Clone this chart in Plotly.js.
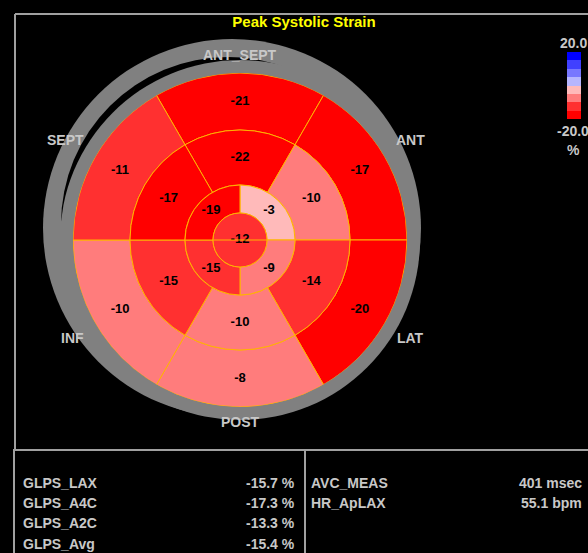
<!DOCTYPE html>
<html>
<head>
<meta charset="utf-8">
<script src="https://cdn.plot.ly/plotly-3.0.1.min.js"></script>
<style>
html,body{margin:0;padding:0;background:#000;overflow:hidden}
#chart{width:588px;height:553px}
</style>
</head>
<body>
<div id="chart"></div>
<script>
// ---------------- DATA ----------------
// Segment order (clockwise from top): ANT_SEPT, ANT, LAT, POST, INF, SEPT
const wallLabels   = ['ANT_SEPT', 'ANT', 'LAT', 'POST', 'INF', 'SEPT'];
const basalValues  = [-21, -17, -20, -8, -10, -11];
const midValues    = [-22, -10, -14, -10, -15, -17];
// Apical order (clockwise from upper-right): ant, lat, inf, sept
const apicalValues = [-3, -9, -15, -19];
const apexValues   = [-12];

const scaleMin = -20.0;
const scaleMax = 20.0;
const scaleUnit = '%';

const glpsLabels = ['GLPS_LAX', 'GLPS_A4C', 'GLPS_A2C', 'GLPS_Avg'];
const glpsValues = [-15.7, -17.3, -13.3, -15.4];
const measLabels = ['AVC_MEAS', 'HR_ApLAX'];
const measValues = [401, 55.1];
const measUnits  = ['msec', 'bpm'];

// ---------------- GEOMETRY / STYLE ----------------
const W = 588, H = 553;
const px = x => x / W;
const py = y => 1 - y / H;
const CX = 240, CY = 240, R = 167;
const ringEdges = [0, 27, 55, 110, 167];      // radial units == pixels
const lineColor = '#ffb400';
const labelGray = '#c8c8c8';
const FAMILY = 'Liberation Sans, Arial, sans-serif';
const bandColors = ['#ff0000', '#ff3030', '#ff7c7c', '#ffbaba', '#b6b6ff', '#7878ff', '#4040ff', '#0000ff'];
const colorscale = [];
bandColors.forEach((c, k) => { colorscale.push([k / 8, c]); colorscale.push([(k + 1) / 8, c]); });
const bold = s => '<b>' + s + '</b>';

function ringTrace(values, i0, i1, startAngle) {
  const n = values.length;
  const step = 360 / n;
  return {
    type: 'barpolar',
    r: values.map(() => ringEdges[i1] - ringEdges[i0]),
    base: values.map(() => ringEdges[i0]),
    theta: values.map((v, k) => startAngle + k * step),
    width: values.map(() => step),
    marker: { color: values, coloraxis: 'coloraxis', line: { color: lineColor, width: 1 } },
    hoverinfo: 'skip',
    showlegend: false
  };
}
function textTrace(values, i0, i1, startAngle) {
  const n = values.length;
  const step = 360 / n;
  const rm = i0 === 0 ? 0 : (ringEdges[i0] + ringEdges[i1]) / 2;
  return {
    type: 'scatterpolar',
    mode: 'text',
    r: values.map(() => rm),
    theta: values.map((v, k) => startAngle + k * step),
    text: values.map(v => bold(String(v))),
    textfont: { color: '#000000', size: 13, family: FAMILY },
    cliponaxis: false,
    hoverinfo: 'skip',
    showlegend: false
  };
}

const traces = [
  ringTrace(basalValues, 3, 4, 0),
  ringTrace(midValues, 2, 3, 0),
  ringTrace(apicalValues, 1, 2, 45),
  ringTrace(apexValues, 0, 1, 0),
  textTrace(basalValues, 3, 4, 0),
  textTrace(midValues, 2, 3, 0),
  textTrace(apicalValues, 1, 2, 45),
  textTrace(apexValues, 0, 1, 0)
];

function circle(cx, cy, r, color) {
  return { type: 'circle', xref: 'paper', yref: 'paper', layer: 'below',
    x0: px(cx - r), x1: px(cx + r), y0: py(cy + r), y1: py(cy - r),
    fillcolor: color, line: { width: 0 } };
}
function line(x0, y0, x1, y1, color, width, layer) {
  return { type: 'line', xref: 'paper', yref: 'paper', layer: layer || 'above',
    x0: px(x0), x1: px(x1), y0: py(y0), y1: py(y1), line: { color: color, width: width } };
}

const frameGray = '#a0a0a0';
const shapes = [
  circle(232, 228, 189, '#808080'),
  circle(228, 224, 167, '#000000'),
  circle(240, 240, 180, '#808080'),
  line(CX - ringEdges[1], CY, CX + ringEdges[1], CY, lineColor, 1, 'above'),
  line(15, 14, 588, 14, frameGray, 2),
  line(15, 14, 15, 449, frameGray, 2),
  line(13, 450, 588, 450, frameGray, 2),
  line(14, 450, 14, 553, frameGray, 2),
  line(305, 450, 305, 553, frameGray, 2)
];

function ann(text, x, y, xanchor, size, color) {
  return { text: bold(text), xref: 'paper', yref: 'paper', x: px(x), y: py(y), xanchor: xanchor, yanchor: 'middle',
    showarrow: false, font: { family: FAMILY, size: size, color: color }, borderpad: 0 };
}

const wallPos = [[240, 55], [410, 140], [410, 338], [240, 422], [72, 338], [65, 140]];
const annotations = [];
wallLabels.forEach((t, i) => annotations.push(ann(t, wallPos[i][0], wallPos[i][1], 'center', 14, labelGray)));
annotations.push(ann(scaleMax.toFixed(1), 559, 43, 'left', 14, labelGray));
annotations.push(ann(scaleMin.toFixed(1), 556, 131, 'left', 14, labelGray));
annotations.push(ann(scaleUnit, 573, 150, 'center', 14, labelGray));
const rowY = [483, 503, 523, 544];
glpsLabels.forEach((t, i) => {
  annotations.push(ann(t, 22, rowY[i], 'left', 14, labelGray));
  annotations.push(ann(glpsValues[i].toFixed(1) + ' %', 296, rowY[i], 'right', 14, labelGray));
});
measLabels.forEach((t, i) => {
  annotations.push(ann(t, 310, rowY[i], 'left', 14, labelGray));
  annotations.push(ann(measValues[i] + ' ' + measUnits[i], 583, rowY[i], 'right', 14, labelGray));
});

const layout = {
  width: W, height: H,
  margin: { l: 0, r: 0, t: 0, b: 0, pad: 0 },
  paper_bgcolor: '#000000',
  plot_bgcolor: '#000000',
  showlegend: false,
  title: { text: bold('Peak Systolic Strain'), x: px(304), y: py(22), xanchor: 'center', yanchor: 'middle',
    font: { family: FAMILY, size: 15, color: '#ffff00' } },
  polar: {
    domain: { x: [px(CX - R), px(CX + R)], y: [py(CY + R), py(CY - R)] },
    bgcolor: 'rgba(0,0,0,0)',
    bargap: 0,
    radialaxis: { visible: false, range: [0, R] },
    angularaxis: { visible: false, rotation: 90, direction: 'clockwise' }
  },
  coloraxis: {
    cmin: scaleMin, cmax: scaleMax, colorscale: colorscale,
    colorbar: {
      x: px(567), xanchor: 'left', y: py(52), yanchor: 'top',
      lenmode: 'pixels', len: 67, thicknessmode: 'pixels', thickness: 14,
      showticklabels: false, ticks: '', outlinewidth: 0, xpad: 0, ypad: 0,
      bgcolor: 'rgba(0,0,0,0)'
    }
  },
  shapes: shapes,
  annotations: annotations
};

Plotly.newPlot('chart', traces, layout, { staticPlot: true, displayModeBar: false });
</script>
</body>
</html>
